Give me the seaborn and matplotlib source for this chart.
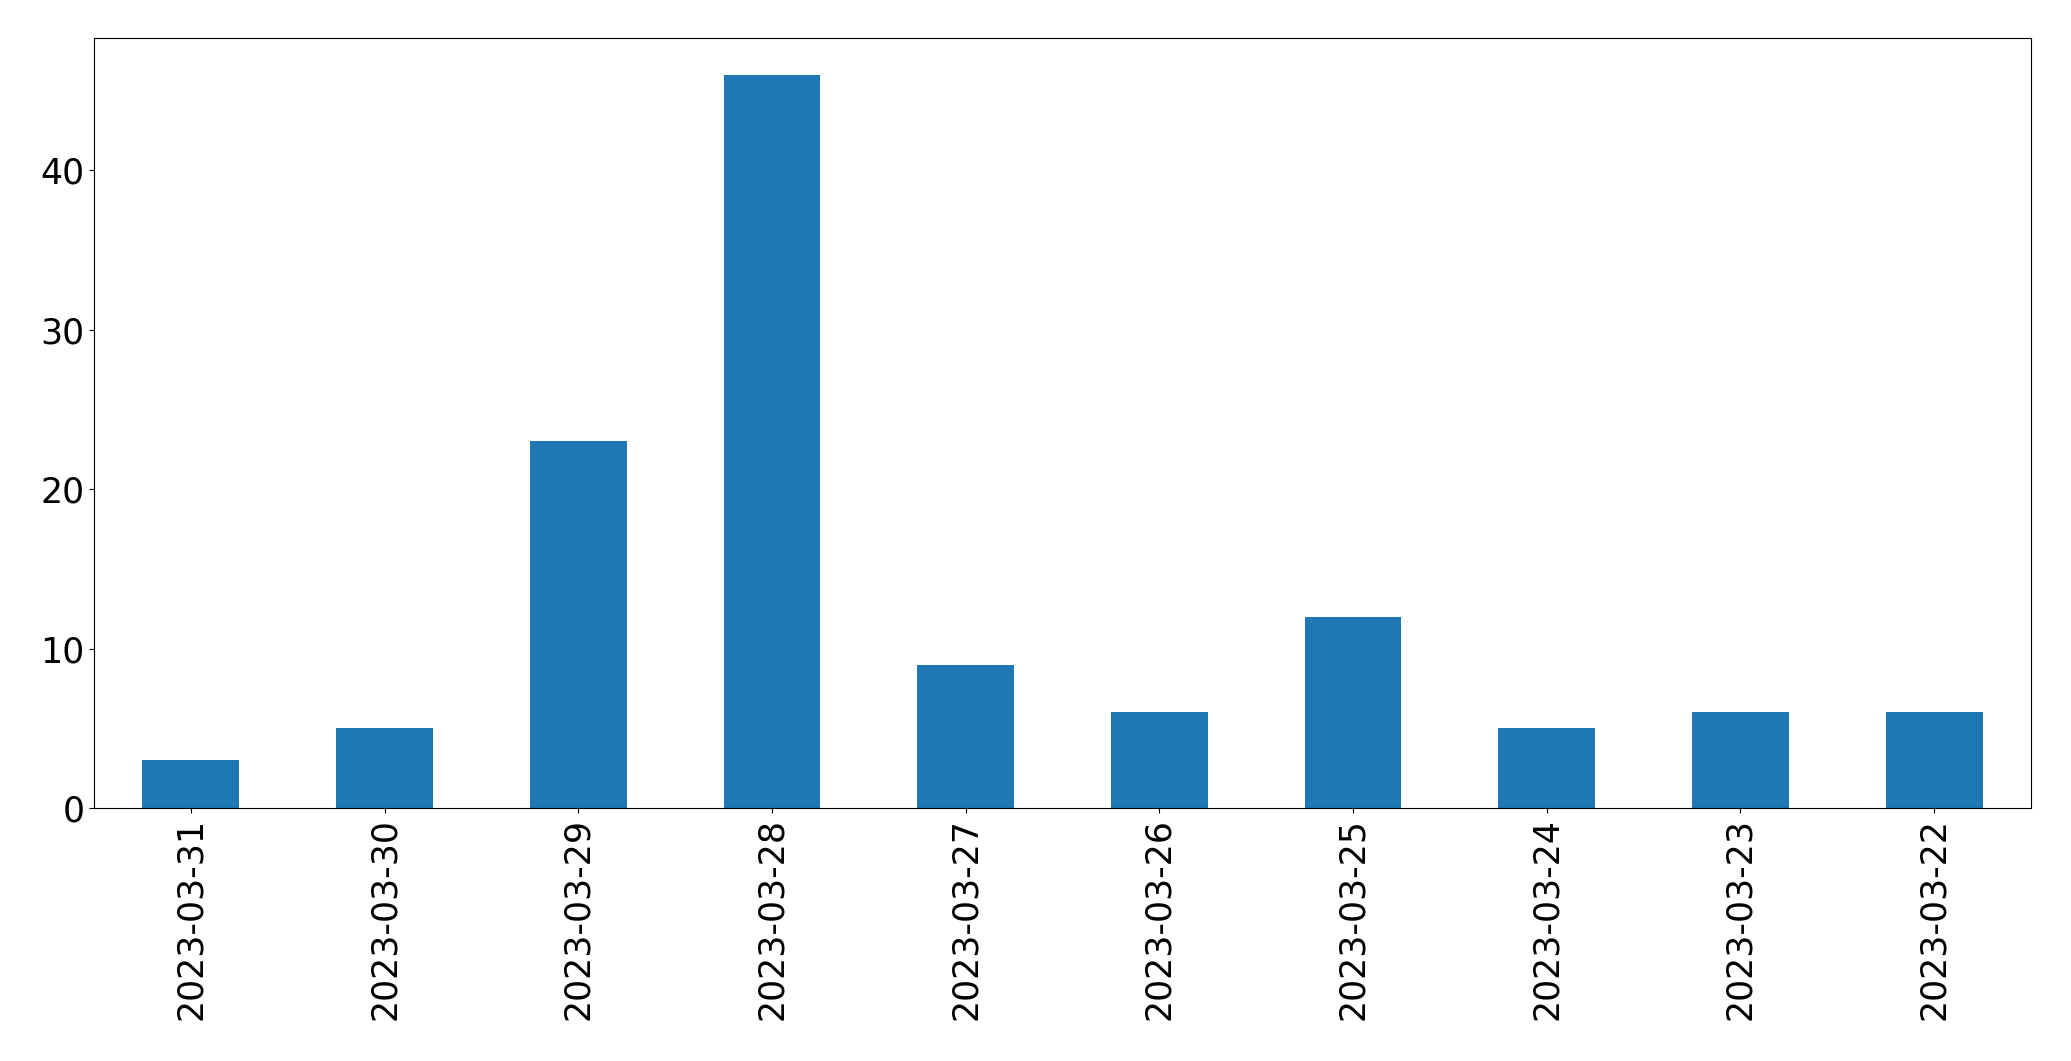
import matplotlib
matplotlib.use("Agg")
import matplotlib.pyplot as plt
import seaborn as sns
import pandas as pd

dates = ["2023-03-31", "2023-03-30", "2023-03-29", "2023-03-28", "2023-03-27",
         "2023-03-26", "2023-03-25", "2023-03-24", "2023-03-23", "2023-03-22"]
counts = [3, 5, 23, 46, 9, 6, 12, 5, 6, 6]

df = pd.DataFrame({"date": dates, "count": counts})

fig, ax = plt.subplots(figsize=(20.71, 10.61), dpi=100)
fig.subplots_adjust(left=94 / 2071, right=2031 / 2071, top=1 - 38 / 1061, bottom=1 - 808 / 1061)

sns.barplot(data=df, x="date", y="count", order=dates, color="#1f77b4",
            saturation=1, width=0.5, ax=ax)

ax.set_xlim(-0.5, len(dates) - 0.5)
ax.set_ylim(0, 48.3)
ax.set_xlabel("")
ax.set_ylabel("")
ax.tick_params(axis="both", labelsize=25)
ax.tick_params(axis="x", labelrotation=90)

fig.savefig("out.png", dpi=100)
